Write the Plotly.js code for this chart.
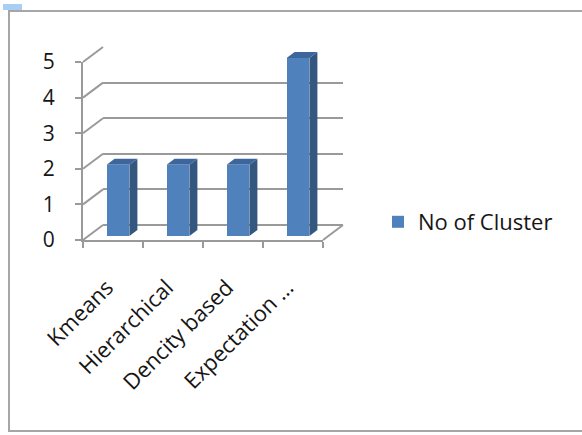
<!DOCTYPE html>
<html>
<head>
<meta charset="utf-8">
<script src="https://cdn.plot.ly/plotly-3.0.1.min.js"></script>
<style>html,body{margin:0;padding:0;background:#fff}#chart{width:582px;height:435px}</style>
</head>
<body>
<div id="chart"></div>
<script>
// ---- data ----
const categories = ["Kmeans", "Hierarchical", "Dencity based", "Expectation …"];
const seriesName = "No of Cluster";
const noOfCluster = [2, 2, 2, 5];
const yTicks = [0, 1, 2, 3, 4, 5];

// ---- geometry (pixels) ----
const W = 582, H = 435;
const px = x => x / W, py = y => 1 - y / H;
const FX0 = 83, FX1 = 323, FY0 = 240, FY5 = 62;   // front plane
const unitY = (FY0 - FY5) / 5, unitX = (FX1 - FX0) / 4;
const DX = 20, DY = 15;     // depth of the 3D box
const BX = 5, BY = 4;       // bar plane offset
const SX = 8, SY = 6;       // bar side depth
const barW = 0.38;

const FONT = "'Open Sans', 'Noto Sans', sans-serif";
const TXT = "#161616";
const GRID = "#9a9a9a";

const idx = categories.map((c, i) => i);

// side & top faces computed from the data values
const dxu = SX / unitX, dyu = SY / unitY;
const faceTraces = [];
noOfCluster.forEach((v, i) => {
  const l = i - barW / 2, r = i + barW / 2;
  faceTraces.push({
    type: "scatter", mode: "lines", fill: "toself", xaxis: "x2", yaxis: "y2",
    x: [r, r + dxu, r + dxu, r, r], y: [0, dyu, v + dyu, v, 0],
    fillcolor: "#34577f", line: {width: 0}, showlegend: false, hoverinfo: "skip"
  });
  faceTraces.push({
    type: "scatter", mode: "lines", fill: "toself", xaxis: "x2", yaxis: "y2",
    x: [l, r, r + dxu, l + dxu, l], y: [v, v, v + dyu, v + dyu, v],
    fillcolor: "#3d679c", line: {width: 0}, showlegend: false, hoverinfo: "skip"
  });
});

const traces = [
  // back wall carrier
  {type: "scatter", mode: "none", x: idx, y: noOfCluster, xaxis: "x", yaxis: "y", showlegend: false, hoverinfo: "skip"},
  // bars
  {type: "bar", name: seriesName, x: idx, y: noOfCluster, width: barW, xaxis: "x2", yaxis: "y2",
   marker: {color: "#4f81bd", line: {width: 0}}, hoverinfo: "skip"},
  ...faceTraces,
  // front axes carrier
  {type: "scatter", mode: "none", x: idx, y: noOfCluster, xaxis: "x3", yaxis: "y3", showlegend: false, hoverinfo: "skip"}
];

const xr = [-0.5, 3.5];
const yr = [0, 5];
const barYTop = 5.5, barXTop = 3.8;

// side wall diagonals & floor edge
const shapes = [];
yTicks.forEach(t => {
  const yf = FY0 - t * unitY;
  shapes.push({type: "line", xref: "paper", yref: "paper",
    x0: px(FX0), y0: py(yf), x1: px(FX0 + DX), y1: py(yf - DY),
    line: {color: GRID, width: 2}});
});
shapes.push({type: "line", xref: "paper", yref: "paper",
  x0: px(FX1), y0: py(FY0), x1: px(FX1 + DX), y1: py(FY0 - DY), line: {color: GRID, width: 2}});
// outer chart border
shapes.push({type: "rect", xref: "paper", yref: "paper",
  x0: px(9), y0: py(11), x1: px(600), y1: py(431), line: {color: "#a6a6a6", width: 2}, layer: "below"});
// selection handle
shapes.push({type: "rect", xref: "paper", yref: "paper",
  x0: px(3), y0: py(4), x1: px(22), y1: py(10), fillcolor: "#a9cdf3", line: {width: 0}});

const layout = {
  width: W, height: H,
  margin: {l: 0, r: 0, t: 0, b: 0},
  paper_bgcolor: "#fff", plot_bgcolor: "rgba(0,0,0,0)",
  showlegend: true,
  legend: {x: px(378), y: py(222), xanchor: "left", yanchor: "middle",
    font: {family: FONT, size: 22, color: TXT}, bgcolor: "rgba(0,0,0,0)"},
  bargap: 0,
  // back wall (gridlines)
  xaxis: {domain: [px(FX0 + DX), px(FX1 + DX)], range: xr, anchor: "y",
    showgrid: false, zeroline: false, showline: false, showticklabels: false, ticks: "", fixedrange: true},
  yaxis: {domain: [py(FY0 - DY), py(FY5 - DY)], range: yr, anchor: "x",
    tickvals: yTicks, showgrid: true, gridcolor: GRID, gridwidth: 2,
    zeroline: true, zerolinecolor: GRID, zerolinewidth: 2,
    showline: false, showticklabels: false, ticks: "", fixedrange: true},
  // bars plane
  xaxis2: {domain: [px(FX0 + BX), px(FX0 + BX + (barXTop + 0.5) * unitX)], range: [-0.5, barXTop], anchor: "y2",
    visible: false, fixedrange: true},
  yaxis2: {domain: [py(FY0 - BY), py(FY0 - BY - barYTop * unitY)], range: [0, barYTop], anchor: "x2",
    visible: false, fixedrange: true},
  // front plane (labels, ticks)
  xaxis3: {domain: [px(FX0), px(FX1)], range: xr, anchor: "y3",
    tickmode: "array", tickvals: idx, ticktext: categories, ticks: "", tickangle: -45,
    ticklabelstandoff: 24, ticklabelshift: -6,
    tickfont: {family: FONT, size: 22, color: TXT},
    minor: {tickmode: "array", tickvals: [-0.5, 0.5, 1.5, 2.5, 3.5], ticks: "outside", ticklen: 6, tickcolor: GRID, tickwidth: 2, showgrid: false},
    showgrid: false, zeroline: false, showline: true, linecolor: GRID, linewidth: 2, fixedrange: true},
  yaxis3: {domain: [py(FY0), py(FY5)], range: yr, anchor: "x3",
    tickmode: "array", tickvals: yTicks, ticks: "outside", ticklen: 6, tickcolor: GRID, tickwidth: 2,
    ticklabelstandoff: 16,
    tickfont: {family: FONT, size: 21, color: TXT},
    showgrid: false, zeroline: false, showline: true, linecolor: GRID, linewidth: 2, fixedrange: true},
  shapes: shapes
};

Plotly.newPlot("chart", traces, layout, {displayModeBar: false, staticPlot: true});
</script>
</body>
</html>
